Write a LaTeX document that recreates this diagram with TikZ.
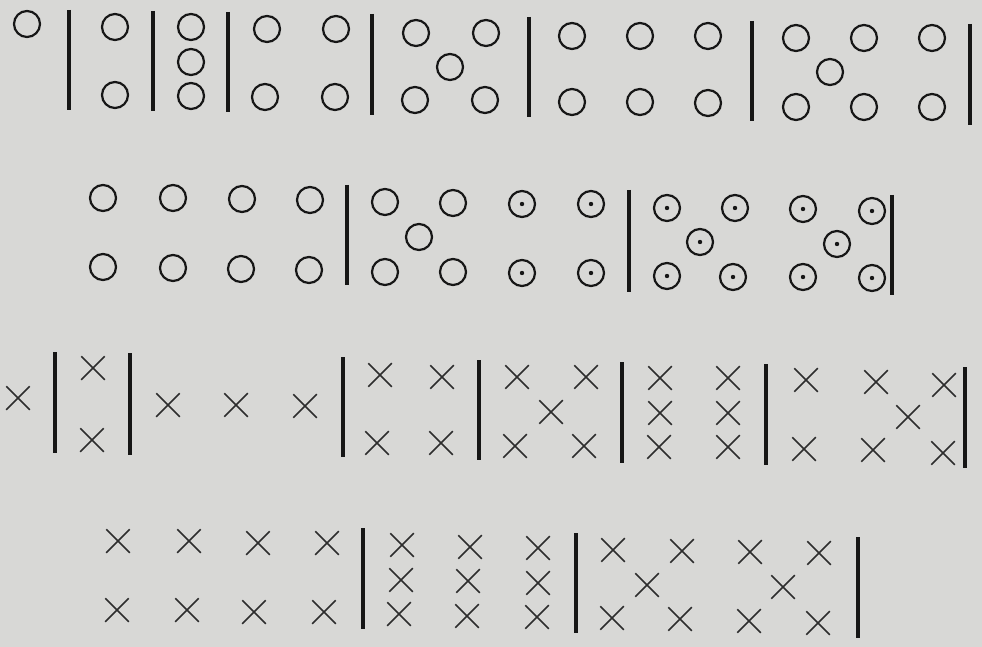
\documentclass[tikz,border=0pt]{standalone}
\usetikzlibrary{shapes.misc}
\definecolor{paper}{RGB}{216,216,214}
\definecolor{ink}{RGB}{22,22,22}
\tikzset{
 ring/.style={circle, draw=ink, line width=2.2pt, minimum size=26pt, inner sep=0pt},
 dring/.style={ring, path picture={\fill[ink] (path picture bounding box.center) circle (2.2pt);}},
 xmark/.style={cross out, draw=ink!90, line width=1.5pt, minimum size=22pt, inner sep=0pt},
 bar/.style={draw=ink, line width=4pt},
}
\begin{document}
\begin{tikzpicture}[x=1pt,y=-1pt]
\fill[paper] (0,0) rectangle (982,647);
\useasboundingbox (0,0) rectangle (982,647);
% row 1: plain circles
\foreach \n/\x/\y in {c1/27/24, c2/115/27, c3/115/95, c4/191/27, c5/191/62, c6/191/96,
  c7/267/29, c8/336/29, c9/265/97, c10/335/97,
  c11/416/33, c12/486/33, c13/450/67, c14/415/100, c15/485/100,
  c16/572/36, c17/640/36, c18/708/36, c19/572/102, c20/640/102, c21/708/103,
  c22/796/38, c23/864/38, c24/932/38, c25/830/72, c26/796/107, c27/864/107, c28/932/107}
  \node[ring] (\n) at (\x,\y) {};
% row 2: plain circles
\foreach \n/\x/\y in {d1/103/198, d2/173/198, d3/242/199, d4/310/200,
  d5/103/267, d6/173/268, d7/241/269, d8/309/270,
  d9/385/202, d10/453/203, d11/419/237, d12/385/272, d13/453/272}
  \node[ring] (\n) at (\x,\y) {};
% row 2: dotted circles
\foreach \n/\x/\y in {e1/522/204, e2/591/204, e3/522/273, e4/591/273,
  e5/667/208, e6/735/208, e7/700/242, e8/667/276, e9/733/277,
  e10/803/209, e11/872/211, e12/837/244, e13/803/277, e14/872/278}
  \node[dring] (\n) at (\x,\y) {};
% row 3: crosses
\foreach \n/\x/\y in {x1/18/398, x2/93/368, x3/92/440,
  x4/168/405, x5/236/405, x6/305/406,
  x7/380/375, x8/442/377, x9/377/443, x10/441/443,
  x11/517/377, x12/586/377, x13/551/412, x14/515/446, x15/584/446,
  x16/660/378, x17/728/378, x18/660/413, x19/728/413, x20/659/447, x21/728/447,
  x22/806/380, x23/876/382, x24/944/385, x25/908/417, x26/804/449, x27/873/450, x28/943/453}
  \node[xmark] (\n) at (\x,\y) {};
% row 4: crosses
\foreach \n/\x/\y in {y1/118/541, y2/189/541, y3/258/543, y4/327/543,
  y5/117/610, y6/187/610, y7/254/612, y8/324/612,
  y9/402/545, y10/470/547, y11/401/580, y12/468/581, y13/399/614, y14/467/616,
  y15/538/548, y16/538/583, y17/537/617,
  y18/613/550, y19/682/551, y20/750/552, y21/819/553, y22/647/585, y23/783/587,
  y24/612/618, y25/680/619, y26/749/621, y27/818/623}
  \node[xmark] (\n) at (\x,\y) {};
% vertical bars
\foreach \x/\a/\b in {69/10/110, 153/11/111, 228/12/112, 372/14/115, 529/17/117, 752/21/121, 970/24/125,
  347/185/285, 629/190/292, 892/195/295,
  55/352/453, 130/353/455, 343/357/457, 479/360/460, 622/362/463, 766/364/465, 965/367/468,
  363/528/629, 576/533/633, 858/537/638}
  \draw[bar] (\x,\a) -- (\x,\b);
\end{tikzpicture}
\end{document}
